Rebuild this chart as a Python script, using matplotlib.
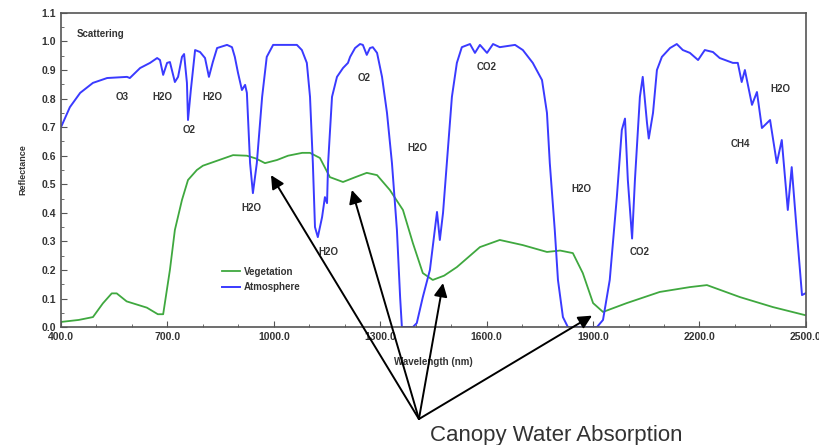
import matplotlib
matplotlib.use("Agg")
import matplotlib.pyplot as plt

# vegetation reflectance (green)
veg_wl = [400, 450, 490, 518, 543, 557, 585, 642, 673, 688, 707, 721, 741, 758, 783, 800,
          885, 924, 950, 975, 1009, 1040, 1080, 1102, 1130, 1158, 1195, 1230, 1262, 1291,
          1327, 1364, 1392, 1420, 1448, 1480, 1516, 1581, 1637, 1702, 1770, 1807, 1843,
          1871, 1900, 1928, 1995, 2088, 2173, 2221, 2314, 2407, 2497]
veg_refl = [0.018, 0.025, 0.035, 0.083, 0.118, 0.118, 0.09, 0.068, 0.045, 0.045, 0.2, 0.34,
            0.445, 0.515, 0.55, 0.565, 0.602, 0.60, 0.59, 0.574, 0.585, 0.60, 0.61, 0.61,
            0.592, 0.525, 0.508, 0.525, 0.54, 0.532, 0.48, 0.41, 0.294, 0.189, 0.165,
            0.18, 0.21, 0.28, 0.305, 0.287, 0.263, 0.268, 0.259, 0.189, 0.084, 0.053,
            0.084, 0.123, 0.14, 0.147, 0.105, 0.07, 0.042]

# atmospheric transmission (blue)
atm_wl = [400, 425, 454, 490, 530, 586, 594, 623, 651, 671, 679, 688, 699, 707, 721, 730,
          741, 747, 755, 758, 766, 778, 792, 806, 817, 828, 840, 868, 882, 890, 899, 910,
          919, 924, 933, 941, 952, 967, 980, 998, 1065, 1079, 1093, 1102, 1110, 1116,
          1124, 1136, 1144, 1150, 1153, 1164, 1178, 1195, 1209, 1215, 1229, 1243, 1251,
          1262, 1271, 1279, 1291, 1305, 1319, 1333, 1347, 1356, 1361, 1392, 1403, 1420,
          1440, 1454, 1460, 1468, 1477, 1491, 1502, 1516, 1530, 1553, 1567, 1581, 1601,
          1618, 1637, 1680, 1702, 1730, 1756, 1770, 1778, 1792, 1801, 1815, 1829, 1911,
          1928, 1947, 1967, 1981, 1990, 1998, 2010, 2018, 2032, 2040, 2052, 2057, 2069,
          2080, 2094, 2117, 2136, 2153, 2173, 2196, 2215, 2238, 2257, 2294, 2308, 2319,
          2328, 2348, 2362, 2376, 2399, 2418, 2432, 2449, 2460, 2474, 2489, 2500]
atm_refl = [0.70, 0.77, 0.82, 0.855, 0.872, 0.876, 0.872, 0.907, 0.925, 0.942, 0.935,
            0.883, 0.925, 0.928, 0.858, 0.876, 0.946, 0.956, 0.855, 0.725, 0.83, 0.97,
            0.963, 0.942, 0.876, 0.928, 0.977, 0.988, 0.98, 0.946, 0.89, 0.83, 0.848,
            0.82, 0.574, 0.469, 0.574, 0.806, 0.946, 0.988, 0.988, 0.97, 0.925, 0.806,
            0.574, 0.35, 0.315, 0.385, 0.455, 0.434, 0.574, 0.806, 0.876, 0.907, 0.925,
            0.946, 0.977, 0.991, 0.988, 0.953, 0.977, 0.98, 0.96, 0.876, 0.75, 0.574,
            0.34, 0.105, 0.0, 0.0, 0.014, 0.105, 0.2, 0.34, 0.403, 0.305, 0.40, 0.63,
            0.806, 0.925, 0.98, 0.991, 0.96, 0.988, 0.96, 0.991, 0.98, 0.988, 0.97,
            0.925, 0.865, 0.75, 0.574, 0.34, 0.165, 0.035, 0.0, 0.0, 0.025, 0.165,
            0.455, 0.69, 0.73, 0.515, 0.31, 0.515, 0.806, 0.876, 0.715, 0.66, 0.75,
            0.90, 0.946, 0.977, 0.991, 0.97, 0.96, 0.935, 0.97, 0.963, 0.942, 0.925,
            0.925, 0.858, 0.90, 0.778, 0.823, 0.697, 0.725, 0.574, 0.655, 0.41, 0.56,
            0.34, 0.112, 0.119]

gas_labels = ["O3", "H2O", "O2", "H2O", "H2O", "O2", "H2O", "CO2", "H2O", "H2O", "CO2", "CH4", "H2O"]
gas_x = [572, 687, 761, 826, 938, 1254, 1155, 1601, 1406, 1866, 2032, 2314, 2429]
gas_y = [0.806, 0.806, 0.69, 0.806, 0.417, 0.872, 0.263, 0.91, 0.627, 0.483, 0.263, 0.641, 0.834]

# arrow tips (canopy water absorption features)
arrow_x = [992, 1220, 1477, 1897]
arrow_y = [0.532, 0.48, 0.154, 0.04]

x_ticks = [400, 700, 1000, 1300, 1600, 1900, 2200, 2500]
y_ticks = [0.0, 0.1, 0.2, 0.3, 0.4, 0.5, 0.6, 0.7, 0.8, 0.9, 1.0, 1.1]

plt.rcParams['font.family'] = ['Liberation Sans', 'DejaVu Sans']

fig = plt.figure(figsize=(8.19, 4.45), dpi=100)
ax = fig.add_axes([0.0745, 0.265, 0.9095, 0.706])

ax.plot(veg_wl, veg_refl, color="#3fa83f", lw=1.3, label="Vegetation")
ax.plot(atm_wl, atm_refl, color="#3a3aff", lw=1.4, label="Atmosphere")

ax.set_xlim(400, 2500)
ax.set_ylim(0, 1.1)
ax.set_xticks(x_ticks)
ax.set_xticklabels(["%.1f" % v for v in x_ticks])
ax.set_yticks(y_ticks)
ax.set_yticklabels(["%.1f" % v for v in y_ticks])
ax.set_xticks(range(400, 2501, 100), minor=True)
ax.set_yticks([i * 0.05 for i in range(23)], minor=True)
ax.tick_params(which="both", direction="in", color="#555555", labelsize=7.5)
ax.tick_params(which="major", length=4)
ax.tick_params(which="minor", length=2.5)
for lab in ax.get_xticklabels() + ax.get_yticklabels():
    lab.set_fontweight("bold")
    lab.set_color("#333333")
for sp in ax.spines.values():
    sp.set_color("#555555")
    sp.set_linewidth(1.2)

ax.set_xlabel("Wavelength (nm)", fontsize=7, fontweight="bold", color="#333333", labelpad=11)
ax.set_ylabel("Reflectance", fontsize=6.5, fontweight="bold", color="#333333", labelpad=10)

ax.text(445, 1.026, "Scattering", fontsize=7, fontweight="bold", color="#333333", va="center")
for lab, gx, gy in zip(gas_labels, gas_x, gas_y):
    ax.text(gx, gy, lab, fontsize=7, fontweight="bold", color="#333333", ha="center", va="center")

leg = ax.legend(loc="upper left", bbox_to_anchor=(0.205, 0.22), frameon=False,
                fontsize=7, handlelength=1.8, handletextpad=0.4, labelspacing=0.55)
for t in leg.get_texts():
    t.set_fontweight("bold")
    t.set_color("#333333")

origin = (1409, -0.322)
for tx, ty in zip(arrow_x, arrow_y):
    ax.annotate("", xy=(tx, ty), xytext=origin, textcoords="data", annotation_clip=False,
                arrowprops=dict(arrowstyle="-|>", mutation_scale=20, color="black", lw=1.4,
                                shrinkA=0, shrinkB=0))

ax.text(1440, -0.378, "Canopy Water Absorption", fontsize=16, color="#333333",
        ha="left", va="center", clip_on=False)

fig.savefig("out.png", dpi=100)
